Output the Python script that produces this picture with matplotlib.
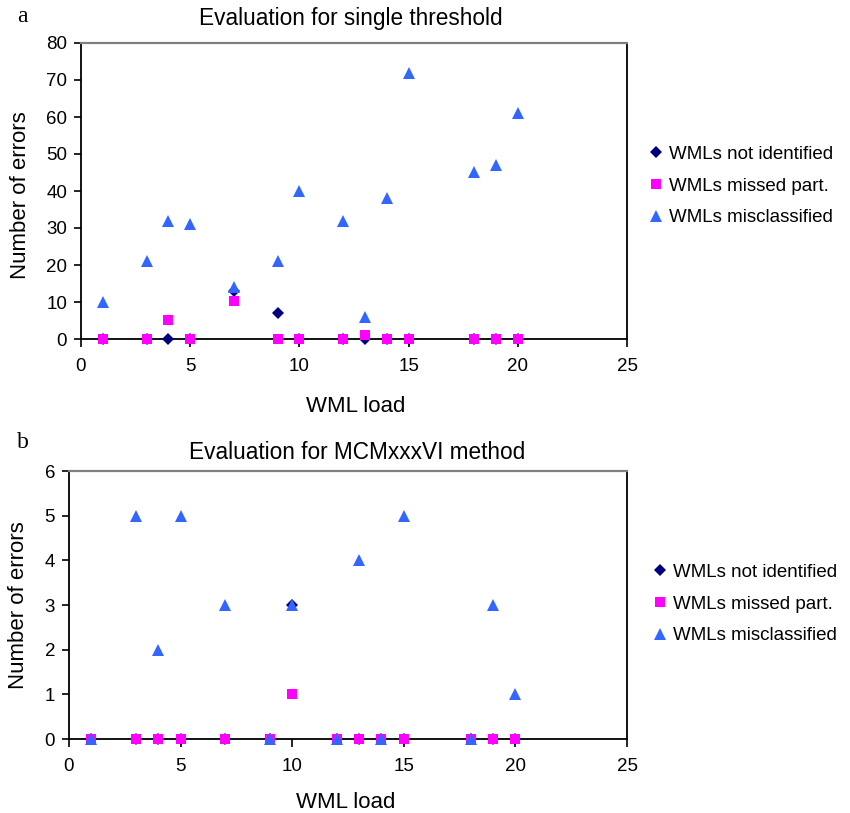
import matplotlib
matplotlib.use("Agg")
import matplotlib.pyplot as plt

plt.rcParams['font.family'] = ['Liberation Sans', 'DejaVu Sans']

# WML load of the evaluated cases
wml_load = [1, 3, 4, 5, 7, 9, 10, 12, 13, 14, 15, 18, 19, 20]

# (a) single threshold
a_not_identified = [0, 0, 0, 0, 13, 7, 0, 0, 0, 0, 0, 0, 0, 0]
a_missed_part = [0, 0, 5, 0, 10.3, 0, 0, 0, 1, 0, 0, 0, 0, 0]
a_misclassified = [10, 21, 32, 31, 14, 21, 40, 32, 6, 38, 72, 45, 47, 61]

# (b) MCMxxxVI method
b_not_identified = [0, 0, 0, 0, 0, 0, 3, 0, 0, 0, 0, 0, 0, 0]
b_missed_part = [0, 0, 0, 0, 0, 0, 1, 0, 0, 0, 0, 0, 0, 0]
b_misclassified = [0, 5, 2, 5, 3, 0, 3, 0, 4, 0, 5, 0, 3, 1]

series_labels = ["WMLs not identified", "WMLs missed part.", "WMLs misclassified"]
titles = ["Evaluation for single threshold", "Evaluation for MCMxxxVI method"]

W, H = 850, 813


def paint(ax, not_ident, missed, miscl, ymax, ystep):
    ax.plot(wml_load, not_ident, ls="none", marker="D", ms=6.6, color="#000080",
            mew=0, clip_on=False, zorder=3, label=series_labels[0])
    ax.plot(wml_load, missed, ls="none", marker="s", ms=7.8, color="#FF00FF",
            mew=0, clip_on=False, zorder=4, label=series_labels[1])
    ax.plot(wml_load, miscl, ls="none", marker="^", ms=8.8, color="#3366FF",
            mew=0, clip_on=False, zorder=5, label=series_labels[2])
    ax.set_xlim(0, 25)
    ax.set_ylim(0, ymax)
    ax.set_xticks(range(0, 26, 5))
    ax.set_yticks(range(0, ymax + 1, ystep))
    ax.tick_params(axis="x", direction="out", length=6, width=1.2, pad=8, labelsize=13.5)
    ax.tick_params(axis="y", direction="out", length=5, width=1.2, pad=5, labelsize=13.5)
    for s in ["left", "bottom", "right"]:
        ax.spines[s].set_color("black")
        ax.spines[s].set_linewidth(1.3)
    ax.spines["top"].set_color("#808080")
    ax.spines["top"].set_linewidth(1.6)


def add_legend(ax, x, y):
    ax.legend(loc="center left", bbox_to_anchor=(x / W, 1 - y / H),
              bbox_transform=fig.transFigure, frameon=False, fontsize=13.5,
              handlelength=0.8, handletextpad=0.3, labelspacing=0.78, borderaxespad=0)


fig = plt.figure(figsize=(W / 100, H / 100), dpi=100)

# top panel
ax1 = fig.add_axes([81 / W, 1 - 339 / H, 546 / W, 296 / H])
paint(ax1, a_not_identified, a_missed_part, a_misclassified, 80, 10)
ax1.set_xlabel("WML load", fontsize=16)
ax1.set_ylabel("Number of errors", fontsize=16)
ax1.xaxis.set_label_coords(0.504, -0.193)
ax1.yaxis.set_label_coords(-0.092, 0.486)
add_legend(ax1, 641, 186)
fig.text(351 / W, 1 - 18 / H, titles[0], ha="center", va="center", fontsize=16.3)
fig.text(22 / W, 1 - 16 / H, "a", ha="center", va="center", fontsize=17,
         family="Liberation Serif")

# bottom panel
ax2 = fig.add_axes([69 / W, 1 - 739 / H, 558 / W, 268 / H])
paint(ax2, b_not_identified, b_missed_part, b_misclassified, 6, 1)
ax2.set_xlabel("WML load", fontsize=16)
ax2.set_ylabel("Number of errors", fontsize=16)
ax2.xaxis.set_label_coords(0.495, -0.198)
ax2.yaxis.set_label_coords(-0.072, 0.5)
add_legend(ax2, 645, 604)
fig.text(357 / W, 1 - 452 / H, titles[1], ha="center", va="center", fontsize=16.3)
fig.text(23 / W, 1 - 442 / H, "b", ha="center", va="center", fontsize=17,
         family="Liberation Serif")

fig.savefig("out.png", dpi=100)
